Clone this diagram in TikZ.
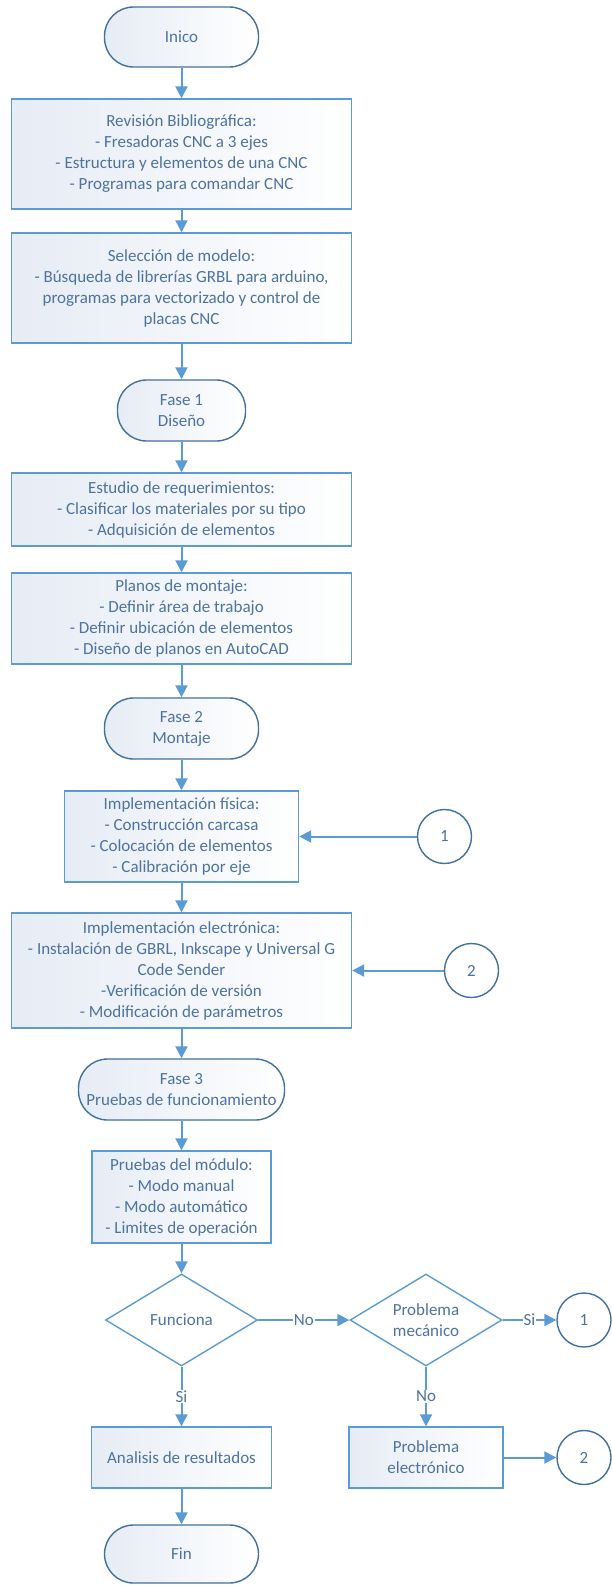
\documentclass[tikz,border=0pt]{standalone}
\usepackage{fontspec}
\setmainfont{Carlito}
\usetikzlibrary{shapes.geometric,arrows.meta}
\definecolor{linec}{HTML}{5B9BD5}
\definecolor{edgec}{HTML}{41719C}
\definecolor{txtc}{HTML}{4D73A0}
\definecolor{tintc}{HTML}{E6ECF5}

\begin{document}
\begin{tikzpicture}[x=1pt,y=-1pt,
  lbl/.style={font=\fontsize{17}{21}\selectfont, text=txtc, align=center},
  procbox/.style={lbl, rectangle, draw=linec, line width=1.4pt, left color=tintc, right color=white, inner sep=2pt},
  termbox/.style={lbl, rectangle, rounded corners=29pt, draw=edgec, line width=1.4pt, left color=tintc, right color=white, inner sep=2pt},
  decbox/.style={lbl, diamond, aspect=1.65, draw=linec, line width=1.4pt, fill=white, inner sep=1pt, minimum width=152pt, minimum height=92pt},
  connbox/.style={lbl, circle, draw=edgec, line width=1.4pt, fill=white, minimum size=54pt, inner sep=0pt},
  flowarrow/.style={draw=linec, line width=2pt, -{Triangle[length=12pt,width=12pt]}},
  edgetag/.style={lbl, fill=white, inner sep=1pt}
]
% page area
\fill[white] (0,0) rectangle (612,1585);
\useasboundingbox (0,0) rectangle (612,1585);

% main column
\node[termbox, minimum width=154pt, minimum height=60pt] (inico) at (181.5,37) {Inico};
\node[procbox, minimum width=340pt, minimum height=110pt] (rev) at (181.5,154)
  {Revisión Bibliográfica:\\- Fresadoras CNC a 3 ejes\\- Estructura y elementos de una CNC\\- Programas para comandar CNC};
\node[procbox, minimum width=340pt, minimum height=110pt] (sel) at (181.5,288)
  {Selección de modelo:\\- Búsqueda de librerías GRBL para arduino,\\programas para vectorizado y control de\\placas CNC};
\node[termbox, minimum width=128pt, minimum height=61pt] (f1) at (181.5,410.5) {Fase 1\\Diseño};
\node[procbox, minimum width=340pt, minimum height=73pt] (est) at (181.5,509.5)
  {Estudio de requerimientos:\\- Clasificar los materiales por su tipo\\- Adquisición de elementos};
\node[procbox, minimum width=340pt, minimum height=91pt] (pla) at (181.5,618.5)
  {Planos de montaje:\\- Definir área de trabajo\\- Definir ubicación de elementos\\- Diseño de planos en AutoCAD};
\node[termbox, minimum width=154pt, minimum height=61pt] (f2) at (181.5,728.5) {Fase 2\\Montaje};
\node[procbox, minimum width=234pt, minimum height=91pt] (fis) at (181.5,836.5)
  {Implementación física:\\- Construcción carcasa\\- Colocación de elementos\\- Calibración por eje};
\node[connbox] (c1) at (444.5,836.5) {1};
\node[procbox, minimum width=340pt, minimum height=115pt] (ele) at (181.5,970.5)
  {Implementación electrónica:\\- Instalación de GBRL, Inkscape y Universal G\\Code Sender\\-Verificación de versión\\- Modificación de parámetros};
\node[connbox] (c2) at (471.5,970.5) {2};
\node[termbox, minimum width=206pt, minimum height=61pt] (f3) at (181.5,1089.5) {Fase 3\\Pruebas de funcionamiento};
\node[procbox, minimum width=179pt, minimum height=92pt] (mod) at (181.5,1197)
  {Pruebas del módulo:\\- Modo manual\\- Modo automático\\- Limites de operación};

% decisions
\node[decbox] (fun) at (181.5,1320) {Funciona};
\node[decbox] (mec) at (426,1320) {Problema\\mecánico};
\node[connbox] (c1b) at (584,1320) {1};
\node[procbox, minimum width=180pt, minimum height=61pt] (ana) at (181.5,1457.5) {Analisis de resultados};
\node[procbox, minimum width=154pt, minimum height=61pt] (pel) at (426,1457.5) {Problema\\electrónico};
\node[connbox] (c2b) at (584,1457.5) {2};
\node[termbox, minimum width=154pt, minimum height=58pt] (fin) at (181.5,1554) {Fin};

% connectors
\draw[flowarrow] (inico) -- (rev);
\draw[flowarrow] (rev) -- (sel);
\draw[flowarrow] (sel) -- (f1);
\draw[flowarrow] (f1) -- (est);
\draw[flowarrow] (est) -- (pla);
\draw[flowarrow] (pla) -- (f2);
\draw[flowarrow] (f2) -- (fis);
\draw[flowarrow] (fis) -- (ele);
\draw[flowarrow] (ele) -- (f3);
\draw[flowarrow] (f3) -- (mod);
\draw[flowarrow] (mod) -- (fun);
\draw[flowarrow] (c1) -- (fis);
\draw[flowarrow] (c2) -- (ele);
\draw[flowarrow] (fun) -- node[edgetag] {Si} (ana);
\draw[flowarrow] (fun) -- node[edgetag] {No} (mec);
\draw[flowarrow] (mec) -- node[edgetag] {Si} (c1b);
\draw[flowarrow] (mec) -- node[edgetag] {No} (pel);
\draw[flowarrow] (pel) -- (c2b);
\draw[flowarrow] (ana) -- (fin);
\end{tikzpicture}
\end{document}
